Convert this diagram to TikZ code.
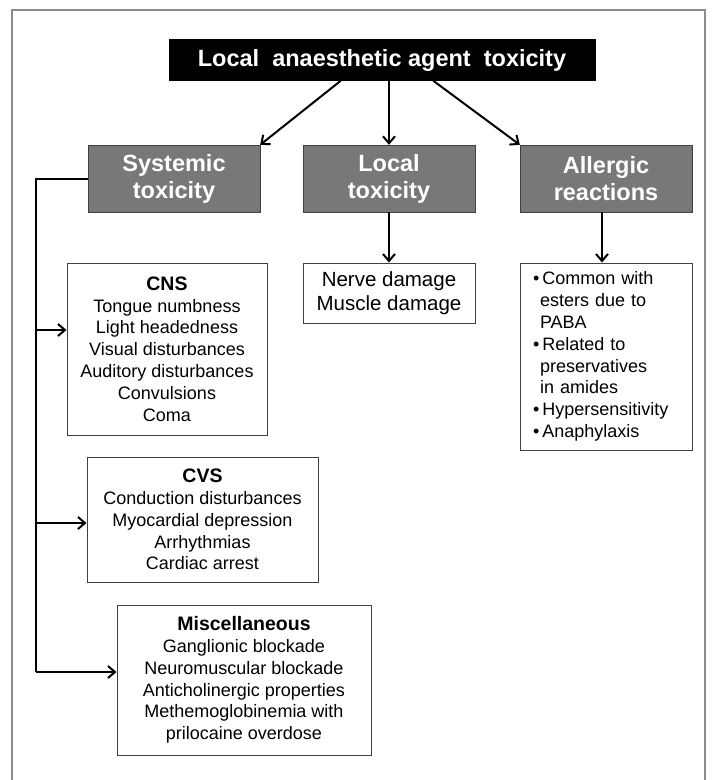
\documentclass[tikz,border=0pt]{standalone}
\usepackage{fontspec}
\setmainfont{Liberation Sans}
\usetikzlibrary{positioning}
\usetikzlibrary{arrows.meta}
\newcommand{\headfont}{\fontsize{19.5}{21.8}\selectfont\bfseries}

\begin{document}
\begin{tikzpicture}[
    x=1pt, y=-1pt,
    font=\fontsize{18}{21.8}\selectfont
]
\tikzset{
    topbox/.style = {draw=black, fill=black, text=white, font=\fontsize{23.5}{27}\selectfont\bfseries,
        minimum width=426pt, minimum height=41pt, inner sep=0pt},
    catbox/.style = {draw=black!75, fill=black!53, text=white, align=center,
        font=\fontsize{23.5}{27}\selectfont\bfseries, minimum width=172pt, minimum height=67pt, inner sep=0pt},
    listbox/.style = {draw=black!75, line width=1pt, fill=white, align=center, inner sep=0pt},
    edgea/.style = {-{Straight Barb[length=7pt,width=12pt]}, line width=2pt},
    busline/.style = {line width=2pt}
}
\useasboundingbox (0,0) rectangle (717,780);
\draw[black!45, line width=1.5pt] (12,780) -- (12,10) -- (705,10) -- (705,780);

% top and the three kinds of toxicity
\node[topbox] at (382,60) (top) {Local\ \ anaesthetic agent\ \ toxicity};
\node[catbox] at (174,178.5) (sys) {Systemic\\toxicity};
\node[catbox] at (389,178.5) (loc) {Local\\toxicity};
\node[catbox] at (606,178.5) (all) {Allergic\\reactions};

% effects
\node[listbox, minimum width=172pt, minimum height=60pt, font=\fontsize{20.5}{24}\selectfont]
    at (389,293) (nerve) {Nerve damage\\Muscle damage};
\node[listbox, minimum width=172pt, minimum height=187pt, text width=146pt, align=left]
    at (606,356.5) (allist) {\textbullet\,Common with\\\hspace*{7pt}esters due to\\\hspace*{7pt}PABA\\
    \textbullet\,Related to\\\hspace*{7pt}preservatives\\\hspace*{7pt}in amides\\
    \textbullet\,Hypersensitivity\\\textbullet\,Anaphylaxis};
\node[listbox, minimum width=200pt, minimum height=172pt] at (167,349) (cns)
    {{\headfont CNS}\\Tongue numbness\\Light headedness\\Visual disturbances\\
    Auditory disturbances\\Convulsions\\Coma};
\node[listbox, minimum width=231pt, minimum height=125pt] at (202.5,519.5) (cvs)
    {{\headfont CVS}\\Conduction disturbances\\Myocardial depression\\Arrhythmias\\Cardiac arrest};
\node[listbox, minimum width=254pt, minimum height=150pt] at (244,680) (misc)
    {{\headfont Miscellaneous}\\Ganglionic blockade\\Neuromuscular blockade\\
    Anticholinergic properties\\Methemoglobinemia with\\prilocaine overdose};

% arrows
\draw[edgea] ([xshift=172pt]top.south west) -- (sys.north east);
\draw[edgea] (top.south -| loc.north) -- (loc.north);
\draw[edgea] ([xshift=-162pt]top.south east) -- (all.north west);
\draw[edgea] (loc.south) -- (nerve.north);
\draw[edgea] (all.south -| 602,0) -- (allist.north -| 602,0);

\coordinate (busend) at (36,672);
\coordinate (bcns) at (36,330);
\coordinate (bcvs) at (36,523);
\draw[busline] (sys.west) -| (busend);
\draw[edgea] (bcns) -- (bcns -| cns.west);
\draw[edgea] (bcvs) -- (bcvs -| cvs.west);
\draw[edgea] (busend) -- (busend -| misc.west);
\end{tikzpicture}
\end{document}
